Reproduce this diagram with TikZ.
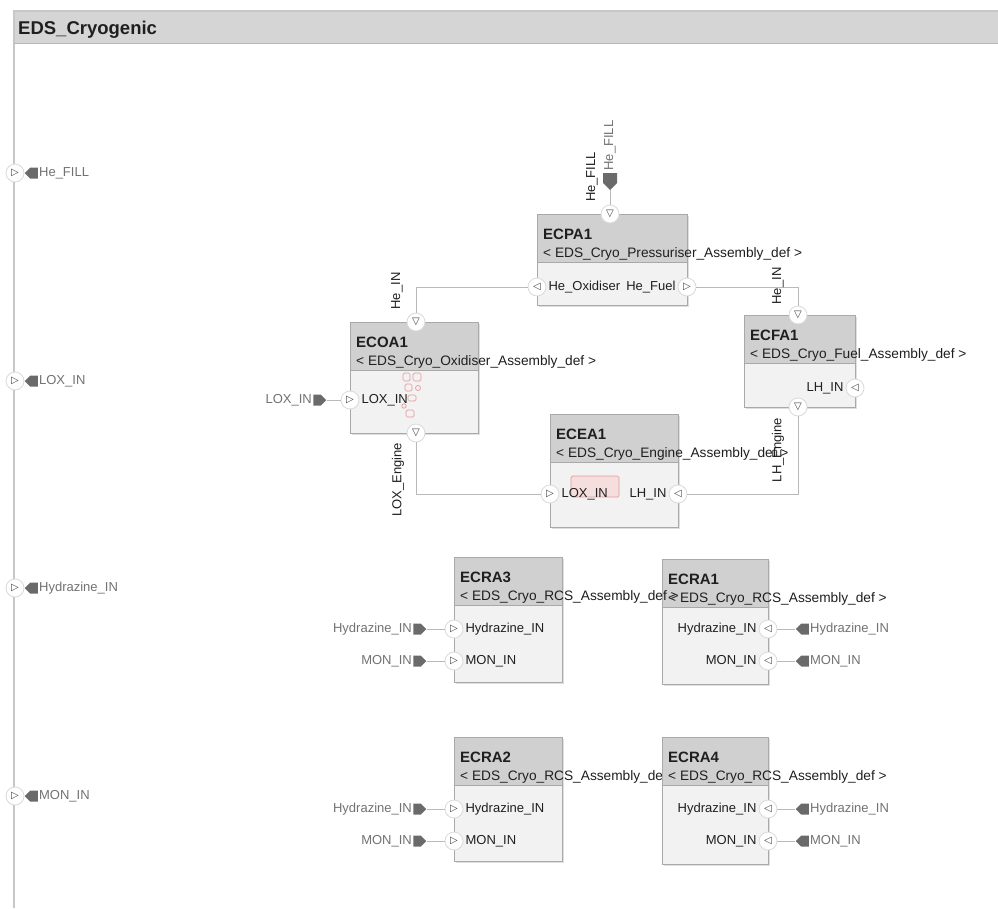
\documentclass[tikz,border=0pt]{standalone}
\usepackage{fontspec}
\setmainfont{Liberation Sans}
\newfontfamily\symfont{DejaVu Sans}
\usetikzlibrary{positioning,shapes.symbols,shadows}

\definecolor{headgray}{HTML}{D0D0D0}
\definecolor{framegray}{HTML}{D5D5D5}
\definecolor{bodygray}{HTML}{F2F2F2}
\definecolor{boxgray}{HTML}{A9A9A9}
\definecolor{wiregray}{HTML}{B9B9B9}
\definecolor{ringgray}{HTML}{DADADA}
\definecolor{flaggray}{HTML}{6A6A6A}
\definecolor{outgray}{HTML}{727272}
\definecolor{inkgray}{HTML}{1F1F1F}
\definecolor{markred}{HTML}{E39A9A}
\definecolor{markfill}{HTML}{F7DEDE}

\tikzset{
  blockbody/.style={rectangle, fill=bodygray, draw=boxgray, line width=0.9pt, inner sep=0,
    drop shadow={shadow xshift=1.2pt, shadow yshift=-1.2pt, opacity=0.25}},
  blocktitle/.style={inner sep=0, font=\fontsize{15}{15}\selectfont\bfseries, text=inkgray},
  blocksub/.style={inner sep=0, font=\fontsize{13.7}{13.7}\selectfont, text=inkgray},
  port/.style={circle, fill=white, draw=ringgray, line width=0.8pt, inner sep=0,
    minimum size=18pt, text=black!75, font=\symfont\fontsize{10}{10}\selectfont},
  portlbl/.style={inner sep=0, font=\fontsize{13}{13}\selectfont, text=inkgray},
  outlbl/.style={inner sep=1pt, font=\fontsize{13}{13}\selectfont, text=outgray},
  wirelbl/.style={inner sep=0, rotate=90, font=\fontsize{13}{13}\selectfont, text=inkgray},
  flag/.style={shape=signal, fill=flaggray, inner sep=0, minimum width=13pt, minimum height=11pt},
  flagL/.style={flag, signal to=west},
  flagR/.style={flag, signal to=east},
  flagD/.style={flag, signal to=south, minimum width=14pt, minimum height=10pt},
  wire/.style={draw=wiregray, line width=0.9pt},
  redmark/.style={draw=markred, line width=0.7pt, rounded corners=1.5pt},
}

% name, x, y, width, height, definition
\newcommand{\cryoblock}[6]{%
  \node[blockbody, minimum width=#4, minimum height=#5, anchor=north west] (#1) at (#2,#3) {};
  \fill[headgray] (#1.north west) rectangle ([yshift=-48pt]#1.north east);
  \draw[boxgray, line width=0.9pt] (#1.north west) rectangle (#1.south east);
  \draw[boxgray, line width=0.9pt] ([yshift=-48pt]#1.north west) -- ([yshift=-48pt]#1.north east);
  \node[blocktitle, anchor=base west] (#1-t) at ([xshift=6pt,yshift=-25pt]#1.north west) {#1};
  \node[blocksub, anchor=base west] (#1-s) at ([xshift=6pt,yshift=-43pt]#1.north west) {< #6 >};
}

\begin{document}
\begin{tikzpicture}[x=1pt,y=-1pt]
    \useasboundingbox (0,0) rectangle (998,908);
    \fill[white] (0,0) rectangle (998,908);

    % Frame
    \fill[framegray] (14,11) rectangle (998,43);
    \draw[black!22, line width=1.2pt] (998,11) -- (14,11) -- (14,908);
    \draw[black!28, line width=0.8pt] (14,43) -- (998,43);
    \node[inner sep=0, anchor=base west, font=\fontsize{18.5}{18.5}\selectfont\bfseries, text=inkgray] (title) at (18,34) {EDS\_Cryogenic};

    % Frame ports
    \node[port] (f-hefill) at (15,173) {▷};
    \node[flagL] (f-hefill-flag) at (34,173) {};
    \node[outlbl, right=0pt of f-hefill-flag] (f-hefill-l) {He\_FILL};
    \node[port] (f-loxin) at (15,381) {▷};
    \node[flagL] (f-loxin-flag) at (34,381) {};
    \node[outlbl, right=0pt of f-loxin-flag] (f-loxin-l) {LOX\_IN};
    \node[port] (f-hydin) at (15,588) {▷};
    \node[flagL] (f-hydin-flag) at (34,588) {};
    \node[outlbl, right=0pt of f-hydin-flag] (f-hydin-l) {Hydrazine\_IN};
    \node[port] (f-monin) at (15,796) {▷};
    \node[flagL] (f-monin-flag) at (34,796) {};
    \node[outlbl, right=0pt of f-monin-flag] (f-monin-l) {MON\_IN};

    % Cryo blocks
    \cryoblock{ECPA1}{537}{214}{150}{91}{EDS\_Cryo\_Pressuriser\_Assembly\_def}
    \cryoblock{ECOA1}{350}{322}{128}{111}{EDS\_Cryo\_Oxidiser\_Assembly\_def}
    \cryoblock{ECEA1}{550}{414}{128}{113}{EDS\_Cryo\_Engine\_Assembly\_def}
    \cryoblock{ECFA1}{744}{315}{111}{92}{EDS\_Cryo\_Fuel\_Assembly\_def}

    % highlight marks
    \draw[redmark] (403,373) rectangle (410,381);
    \draw[redmark] (413,373) rectangle (421,381);
    \draw[redmark] (405,384) rectangle (412,391);
    \draw[redmark] (418,388) circle (2.5);
    \draw[redmark] (408,395) rectangle (416,401);
    \draw[redmark] (404,406) circle (2.2);
    \draw[redmark] (406,410) rectangle (414,417);
    \draw[redmark, fill=markfill] (571,476) rectangle (619,497);

    % ECPA1 ports
    \node[port] (ECPA1-fill) at (610,214) {▽};
    \node[port] (ECPA1-ox) at (537,287) {◁};
    \node[port] (ECPA1-fu) at (687,287) {▷};
    \node[portlbl, right=2pt of ECPA1-ox] (ECPA1-ox-l) {He\_Oxidiser};
    \node[portlbl, left=2pt of ECPA1-fu] (ECPA1-fu-l) {He\_Fuel};
    \node[flagD] (ECPA1-fill-flag) at (610,178) {};
    \node[outlbl, rotate=90, anchor=west, inner sep=0] (ECPA1-fill-l) at ([yshift=2pt]ECPA1-fill-flag.north) {He\_FILL};

    % ECOA1 ports
    \node[port] (ECOA1-hein) at (416,322) {▽};
    \node[port] (ECOA1-lox) at (350,400) {▷};
    \node[port] (ECOA1-eng) at (416,433) {▽};
    \node[portlbl, right=2pt of ECOA1-lox] (ECOA1-lox-l) {LOX\_IN};
    \node[flagR] (ECOA1-lox-flag) at (317,400) {};
    \node[outlbl, left=0pt of ECOA1-lox-flag] (ECOA1-lox-o) {LOX\_IN};

    % ECEA1 ports
    \node[port] (ECEA1-lox) at (550,494) {▷};
    \node[port] (ECEA1-lh) at (678,494) {◁};
    \node[portlbl, right=2pt of ECEA1-lox] (ECEA1-lox-l) {LOX\_IN};
    \node[portlbl, left=2pt of ECEA1-lh] (ECEA1-lh-l) {LH\_IN};

    % ECFA1 ports
    \node[port] (ECFA1-hein) at (798,315) {▽};
    \node[port] (ECFA1-lh) at (855,388) {◁};
    \node[port] (ECFA1-eng) at (798,407) {▽};
    \node[portlbl, left=2pt of ECFA1-lh] (ECFA1-lh-l) {LH\_IN};

    % Connectors
    \draw[wire] (ECPA1-fill-flag) -- (ECPA1-fill);
    \draw[wire] (ECOA1-lox-flag) -- (ECOA1-lox);
    \draw[wire] (ECPA1-ox) -| (ECOA1-hein);
    \draw[wire] (ECPA1-fu) -| (ECFA1-hein);
    \draw[wire] (ECOA1-eng) |- (ECEA1-lox);
    \draw[wire] (ECFA1-eng) |- (ECEA1-lh);
    \node[wirelbl] (w-hefill) at (592,177) {He\_FILL};
    \node[wirelbl] (w-heox) at (397,291) {He\_IN};
    \node[wirelbl] (w-hefu) at (778,286) {He\_IN};
    \node[wirelbl] (w-loxeng) at (398,480) {LOX\_Engine};
    \node[wirelbl] (w-lheng) at (778,450) {LH\_Engine};

    % RCS blocks
    \cryoblock{ECRA1}{662}{559}{106}{125}{EDS\_Cryo\_RCS\_Assembly\_def}
    \cryoblock{ECRA3}{454}{557}{108}{125}{EDS\_Cryo\_RCS\_Assembly\_def}
    \cryoblock{ECRA2}{454}{737}{108}{124}{EDS\_Cryo\_RCS\_Assembly\_def}
    \cryoblock{ECRA4}{662}{737}{106}{127}{EDS\_Cryo\_RCS\_Assembly\_def}

    % ECRA3
    \node[port] (ECRA3-hyd) at (454,629) {▷};
    \node[port] (ECRA3-mon) at (454,661) {▷};
    \node[portlbl, right=2pt of ECRA3-hyd] (ECRA3-hyd-l) {Hydrazine\_IN};
    \node[portlbl, right=2pt of ECRA3-mon] (ECRA3-mon-l) {MON\_IN};
    \node[flagR] (ECRA3-hyd-flag) at (417,629) {};
    \node[flagR] (ECRA3-mon-flag) at (417,661) {};
    \node[outlbl, left=0pt of ECRA3-hyd-flag] (ECRA3-hyd-o) {Hydrazine\_IN};
    \node[outlbl, left=0pt of ECRA3-mon-flag] (ECRA3-mon-o) {MON\_IN};
    \draw[wire] (ECRA3-hyd-flag) -- (ECRA3-hyd);
    \draw[wire] (ECRA3-mon-flag) -- (ECRA3-mon);

    % ECRA1
    \node[port] (ECRA1-hyd) at (768,629) {◁};
    \node[port] (ECRA1-mon) at (768,661) {◁};
    \node[portlbl, left=2pt of ECRA1-hyd] (ECRA1-hyd-l) {Hydrazine\_IN};
    \node[portlbl, left=2pt of ECRA1-mon] (ECRA1-mon-l) {MON\_IN};
    \node[flagL] (ECRA1-hyd-flag) at (805,629) {};
    \node[flagL] (ECRA1-mon-flag) at (805,661) {};
    \node[outlbl, right=0pt of ECRA1-hyd-flag] (ECRA1-hyd-o) {Hydrazine\_IN};
    \node[outlbl, right=0pt of ECRA1-mon-flag] (ECRA1-mon-o) {MON\_IN};
    \draw[wire] (ECRA1-hyd-flag) -- (ECRA1-hyd);
    \draw[wire] (ECRA1-mon-flag) -- (ECRA1-mon);

    % ECRA2
    \node[port] (ECRA2-hyd) at (454,809) {▷};
    \node[port] (ECRA2-mon) at (454,841) {▷};
    \node[portlbl, right=2pt of ECRA2-hyd] (ECRA2-hyd-l) {Hydrazine\_IN};
    \node[portlbl, right=2pt of ECRA2-mon] (ECRA2-mon-l) {MON\_IN};
    \node[flagR] (ECRA2-hyd-flag) at (417,809) {};
    \node[flagR] (ECRA2-mon-flag) at (417,841) {};
    \node[outlbl, left=0pt of ECRA2-hyd-flag] (ECRA2-hyd-o) {Hydrazine\_IN};
    \node[outlbl, left=0pt of ECRA2-mon-flag] (ECRA2-mon-o) {MON\_IN};
    \draw[wire] (ECRA2-hyd-flag) -- (ECRA2-hyd);
    \draw[wire] (ECRA2-mon-flag) -- (ECRA2-mon);

    % ECRA4
    \node[port] (ECRA4-hyd) at (768,809) {◁};
    \node[port] (ECRA4-mon) at (768,841) {◁};
    \node[portlbl, left=2pt of ECRA4-hyd] (ECRA4-hyd-l) {Hydrazine\_IN};
    \node[portlbl, left=2pt of ECRA4-mon] (ECRA4-mon-l) {MON\_IN};
    \node[flagL] (ECRA4-hyd-flag) at (805,809) {};
    \node[flagL] (ECRA4-mon-flag) at (805,841) {};
    \node[outlbl, right=0pt of ECRA4-hyd-flag] (ECRA4-hyd-o) {Hydrazine\_IN};
    \node[outlbl, right=0pt of ECRA4-mon-flag] (ECRA4-mon-o) {MON\_IN};
    \draw[wire] (ECRA4-hyd-flag) -- (ECRA4-hyd);
    \draw[wire] (ECRA4-mon-flag) -- (ECRA4-mon);
\end{tikzpicture}
\end{document}
